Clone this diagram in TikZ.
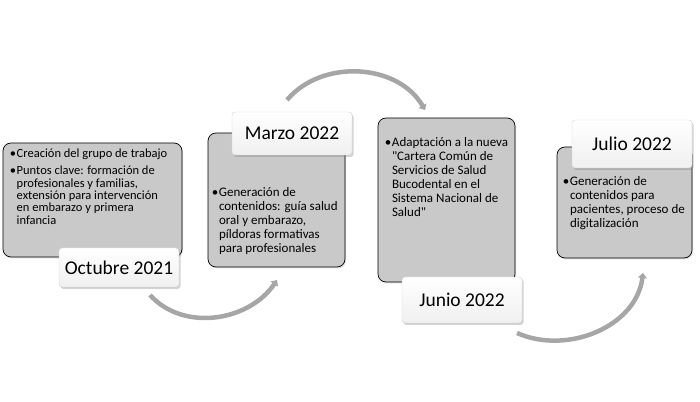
\documentclass[tikz,border=0pt]{standalone}
\usepackage{fontspec}
\setmainfont{Carlito}[Ligatures=TeXOff]
\usetikzlibrary{positioning, arrows.meta, shadows}
\newcommand{\bul}{\makebox[0.55em][l]{\textbullet}}
\newcommand{\ind}{\hspace*{0.55em}}

\begin{document}
\begin{tikzpicture}[x=1pt,y=1pt,
    stage/.style={draw=black, line width=0.7pt, fill=gray!42, rounded corners=8pt,
        drop shadow={opacity=0.25, shadow xshift=1pt, shadow yshift=-1.5pt}},
    datebox/.style={draw=gray!35, top color=white, bottom color=gray!12, rounded corners=3pt,
        minimum width=120pt, font=\fontsize{19.5}{21}\selectfont,
        drop shadow={opacity=0.35, shadow xshift=1.5pt, shadow yshift=-2pt}},
    items/.style={align=left, inner sep=0pt, font=\fontsize{13}{14}\selectfont},
    flow/.style={draw=gray!70, line width=4.5pt, -{Triangle[width=9pt,length=5pt]}}]
    \useasboundingbox (0,0) rectangle (700,401);

    % arrows between the stages
    \coordinate (a1s) at (150,106);
    \coordinate (a1e) at (277,121);
    \coordinate (a2s) at (287,301);
    \coordinate (a2e) at (425,291);
    \coordinate (a3s) at (517,68);
    \coordinate (a3e) at (643,128);
    \draw[flow] (a1s) to[out=-48,in=-124] (a1e);
    \draw[flow] (a2s) to[out=50,in=120] (a2e);
    \draw[flow] (a3s) to[out=-24,in=-97] (a3e);

    % stages
    \node[stage, minimum width=179pt, minimum height=114pt] (oct) at (92.5,201) {};
    \node[stage, minimum width=137pt, minimum height=134pt] (mar) at (276.5,201) {};
    \node[stage, minimum width=137pt, minimum height=164pt] (jun) at (446.5,201) {};
    \node[stage, minimum width=135pt, minimum height=111pt] (jul) at (624.5,198.5) {};

    \node[items, font=\fontsize{12.5}{12.3}\selectfont, below right=6pt and 7pt of oct.north west] (octtxt)
        {\bul Creación del grupo de trabajo\\[5pt]
         \bul Puntos clave: formación de\\
         \ind profesionales y familias,\\
         \ind extensión para intervención\\
         \ind en embarazo y primera\\
         \ind infancia};
    \node[items, below right=55pt and 4pt of mar.north west] (martxt)
        {\bul Generación de\\
         \ind contenidos: guía salud\\
         \ind oral y embarazo,\\
         \ind píldoras formativas\\
         \ind para profesionales};
    \node[items, below right=20pt and 7pt of jun.north west] (juntxt)
        {\bul Adaptación a la nueva\\
         \ind "Cartera Común de\\
         \ind Servicios de Salud\\
         \ind Bucodental en el\\
         \ind Sistema Nacional de\\
         \ind Salud"};
    \node[items, below right=30pt and 6pt of jul.north west] (jultxt)
        {\bul Generación de\\
         \ind contenidos para\\
         \ind pacientes, proceso de\\
         \ind digitalización};

    % dates
    \node[datebox, minimum height=39pt] (octlbl) at (119,133.5) {Octubre 2021};
    \node[datebox, minimum height=43pt] (marlbl) at (292,267.5) {Marzo 2022};
    \node[datebox, minimum height=46pt] (junlbl) at (462,101) {Junio 2022};
    \node[datebox, minimum height=48pt] (jullbl) at (632,257) {Julio 2022};
\end{tikzpicture}
\end{document}
